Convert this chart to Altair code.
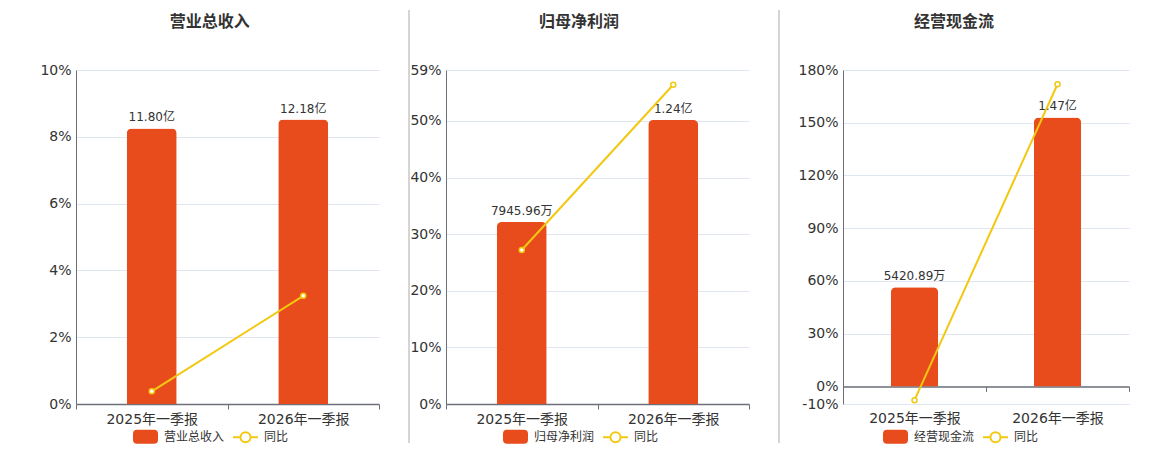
import altair as alt
import pandas as pd

FONT = "DejaVu Sans, Noto Sans CJK SC"
ORANGE = "#e84c1c"
YELLOW = "#f2c811"
TXT = "#333333"
AXIS = "#6e7079"
GRID = "#e0e6f1"

periods = ["2025年一季报", "2026年一季报"]
yoy_name = "同比"

rev_name = "营业总收入"
rev_values = [11.80, 12.18]          # 亿
rev_labels = ["11.80亿", "12.18亿"]
rev_yoy = [0.38, 3.24]

np_name = "归母净利润"
np_values = [0.794596, 1.24]         # 亿
np_labels = ["7945.96万", "1.24亿"]
np_yoy = [27.2, 56.4]

cf_name = "经营现金流"
cf_values = [0.542089, 1.47]         # 亿
cf_labels = ["5420.89万", "1.47亿"]
cf_yoy = [-7.8, 171.9]

RECT_PATH = ("M-0.68,-0.48 L0.68,-0.48 A0.24,0.24 0 0 1 0.92,-0.24 L0.92,0.24 "
             "A0.24,0.24 0 0 1 0.68,0.48 L-0.68,0.48 A0.24,0.24 0 0 1 -0.92,0.24 "
             "L-0.92,-0.24 A0.24,0.24 0 0 1 -0.68,-0.48 Z")
LINE_PATH = ("M-1,0 L-0.4,0 M0.4,0 L1,0 M-0.4,0 A0.4,0.4 0 1 1 0.4,0 "
             "A0.4,0.4 0 1 1 -0.4,0 Z")

PH = 334


def panel(name, values, labels, yoy, pct_domain, pct_ticks, bar_domain, w,
          legend_x, sep_x, sep_opacity, axis_offset=0, label_pad=3):
    df = pd.DataFrame({"period": periods, "value": values,
                       "label": labels, "yoy": yoy})
    base = alt.Chart(df)
    x = alt.X("period:N", sort=periods, title=None,
              scale=alt.Scale(paddingInner=0, paddingOuter=0),
              axis=alt.Axis(tickBand="extent", labelAngle=0, offset=axis_offset,
                            labelPadding=label_pad, domainColor=AXIS,
                            domainWidth=1.5, tickColor=AXIS, tickSize=5,
                            labelFontSize=14, labelColor=TXT, grid=False))
    ybar = alt.Y("value:Q", scale=alt.Scale(domain=bar_domain, nice=False),
                 axis=None)
    bars = base.mark_bar(color=ORANGE, width=alt.RelativeBandSize(0.33),
                         cornerRadiusTopLeft=5, cornerRadiusTopRight=5
                         ).encode(x=x, y=ybar)
    texts = base.mark_text(baseline="bottom", dy=-4, fontSize=12, color=TXT
                           ).encode(x=x, y=ybar, text="label:N")
    ypct = alt.Y("yoy:Q", scale=alt.Scale(domain=pct_domain, nice=False, zero=False),
                 axis=alt.Axis(values=pct_ticks, labelExpr="datum.value + '%'",
                               title=None, grid=True, gridColor=GRID,
                               ticks=False, tickSize=0, labelPadding=5,
                               domain=True, domainColor=AXIS,
                               labelFontSize=14, labelColor=TXT))
    line = base.mark_line(color=YELLOW, strokeWidth=2).encode(x=x, y=ypct)
    pts = base.mark_point(filled=True, fill="white", stroke=YELLOW,
                          strokeWidth=1.5, size=25, opacity=1
                          ).encode(x=x, y=ypct)

    # thin vertical divider between panels (decoration)
    sep = alt.Chart(pd.DataFrame({"k": [0]})).mark_rule(
        color="#aaaaaa", strokeWidth=1, strokeOpacity=sep_opacity
    ).encode(x=alt.value(sep_x), y=alt.value(-60), y2=alt.value(373))

    leg_def = alt.Legend(title=None, orient="none", legendX=legend_x, legendY=353,
                         direction="horizontal", symbolSize=625,
                         symbolStrokeWidth=2, labelFontSize=12, labelColor=TXT,
                         labelOffset=5, columnPadding=4, padding=0,
                         symbolOpacity=1)
    dom = [name, yoy_name]
    leg_df = pd.DataFrame({"series": dom})
    leg = alt.Chart(leg_df).transform_filter("false").mark_point(filled=True).encode(
        fill=alt.Fill("series:N", scale=alt.Scale(domain=dom, range=[ORANGE, "white"]),
                      legend=leg_def),
        stroke=alt.Stroke("series:N", scale=alt.Scale(domain=dom, range=[ORANGE, YELLOW]),
                          legend=leg_def),
        shape=alt.Shape("series:N", scale=alt.Scale(domain=dom, range=[RECT_PATH, LINE_PATH]),
                        legend=leg_def),
    )
    return alt.layer(alt.layer(bars, texts), alt.layer(line, pts), sep, leg).resolve_scale(
        y="independent").properties(
        width=w, height=PH,
        title=alt.TitleParams(name, fontSize=16, fontWeight="bold", color=TXT,
                              anchor="middle", frame="bounds", offset=-20, font=FONT))


p1 = panel(rev_name, rev_values, rev_labels, rev_yoy, [0, 10], [0, 2, 4, 6, 8, 10],
           [0, 14.3], 303, 56, 0, 0)
p2 = panel(np_name, np_values, np_labels, np_yoy, [0, 59], [0, 10, 20, 30, 40, 50, 59],
           [0, 1.458], 303, 56, -37, 1)
p3 = panel(cf_name, cf_values, cf_labels, cf_yoy, [-10, 180],
           [-10, 0, 30, 60, 90, 120, 150, 180], [-0.096, 1.729], 286, 39, -64, 1,
           axis_offset=-PH * 10 / 190, label_pad=20)

chart = alt.hconcat(p1, p2, p3, spacing=28).resolve_scale(
    x="independent", y="independent", fill="independent", stroke="independent",
    shape="independent"
).properties(
    padding={"left": 31, "top": 1, "right": 0, "bottom": 0}
).configure_view(stroke=None).configure_axis(labelFont=FONT).configure_legend(
    labelFont=FONT).configure_text(font=FONT).configure_title(font=FONT)

chart.save("out.html", embed_options={"renderer": "svg", "actions": False})
